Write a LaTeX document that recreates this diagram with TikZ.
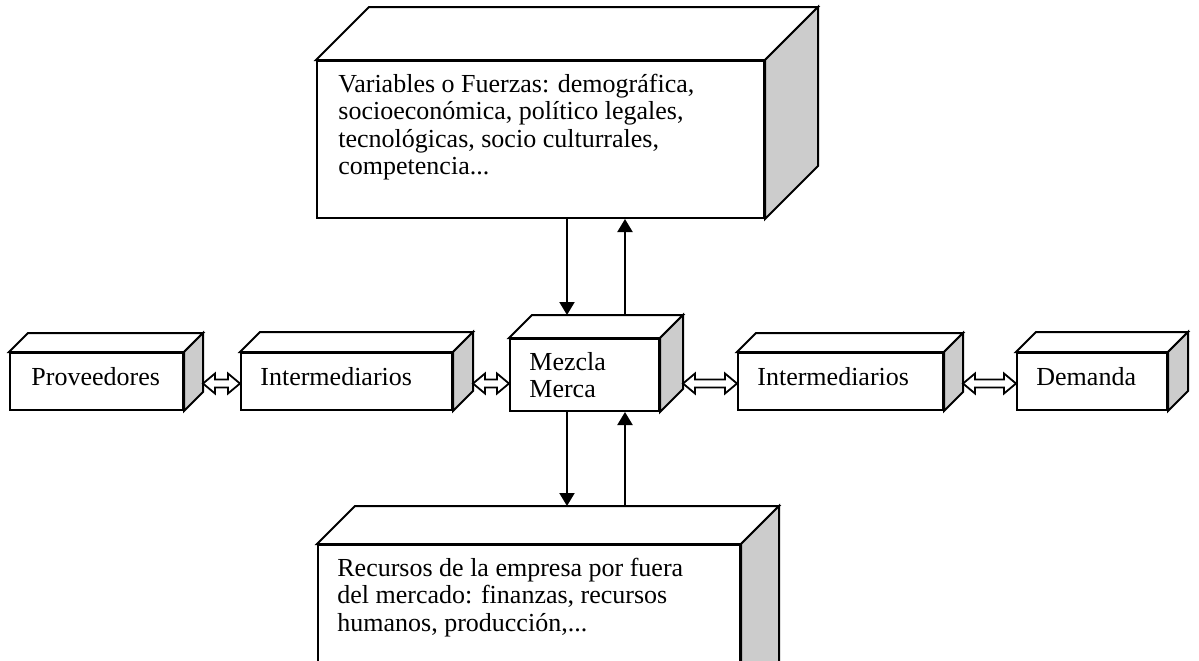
\documentclass[tikz,border=0pt]{standalone}
\usepackage{fontspec}
\setmainfont{Liberation Serif}
\usetikzlibrary{positioning}
\usetikzlibrary{fit}
\usetikzlibrary{arrows.meta}
\definecolor{sidegray}{HTML}{CCCCCC}

\begin{document}
\begin{tikzpicture}[x=0.5pt,y=-0.5pt,
  face/.style={draw,line width=1pt,fill=white,inner sep=0pt},
  lbl/.style={inner sep=0pt,align=left,anchor=north west,font=\fontsize{13}{13.6}\selectfont},
  flow/.style={line width=1pt,-{Triangle[length=6.5pt,width=7.5pt]}},
  link/.style={line width=0.9pt,fill=white,to path={(\tikztostart) -- ++(12,-10) -- ++(0,6)
    -- ([shift={(-12,-4)}]\tikztotarget) -- ++(0,-6) -- (\tikztotarget) -- ++(-12,10) -- ++(0,-6)
    -- ([shift={(12,4)}]\tikztostart) -- ++(0,6) -- cycle}}]
 \useasboundingbox (0,0) rectangle (1199,660);
 \clip (0,0) rectangle (1199,660);
 % front faces
 \node[face,fit={(317,61)(764,218)}] (fuerzas) {};
 \node[face,fit={(10,353)(183,410)}] (prov) {};
 \node[face,fit={(241,353)(452,410)}] (intL) {};
 \node[face,fit={(510,339)(659,411)}] (mezcla) {};
 \node[face,fit={(738,353)(943,410)}] (intR) {};
 \node[face,fit={(1017,353)(1167,410)}] (dem) {};
 \node[face,fit={(318,545)(740,700)}] (recursos) {};
 % top and side faces
 \foreach \b/\d in {fuerzas/53,prov/19,intL/20,mezcla/23,intR/19,dem/20,recursos/38}{
  \draw[line width=1pt,fill=white] (\b.north west) -- ++(\d,-\d) -- ([shift={(\d,-\d)}]\b.north east) -- (\b.north east) -- cycle;
  \draw[line width=1pt,fill=sidegray] (\b.north east) -- ++(\d,-\d) -- ([shift={(\d,-\d)}]\b.south east) -- (\b.south east) -- cycle;
 }
 % texts
 \node[lbl] (fuerzasT) at ([shift={(22,14)}]fuerzas.north west) {Variables o Fuerzas: demográfica,\\socioeconómica, político legales,\\tecnológicas, socio culturrales,\\competencia...};
 \node[lbl] (provT) at ([shift={(22,15)}]prov.north west) {Proveedores};
 \node[lbl] (intLT) at ([shift={(20,15)}]intL.north west) {Intermediarios};
 \node[lbl] (mezclaT) at ([shift={(20,14)}]mezcla.north west) {Mezcla\\Merca};
 \node[lbl] (intRT) at ([shift={(20,15)}]intR.north west) {Intermediarios};
 \node[lbl] (demT) at ([shift={(20,15)}]dem.north west) {Demanda};
 \node[lbl] (recursosT) at ([shift={(20,14)}]recursos.north west) {Recursos de la empresa por fuera\\del mercado: finanzas, recursos\\humanos, producción,...};
 % vertical arrows
 \coordinate (dnX) at (567,0);
 \coordinate (upX) at (625,0);
 \coordinate (mezBack) at ([shift={(0,-23)}]mezcla.north);
 \coordinate (recBack) at ([shift={(0,-38)}]recursos.north);
 \draw[flow] (fuerzas.south -| dnX) -- (mezBack -| dnX);
 \draw[flow] (mezBack -| upX) -- (fuerzas.south -| upX);
 \draw[flow] (mezcla.south -| dnX) -- (recBack -| dnX);
 \draw[flow] (recBack -| upX) -- (mezcla.south -| upX);
 % horizontal links
 \coordinate (provR) at ([shift={(19,2)}]prov.east);
 \coordinate (intLR) at ([shift={(20,2)}]intL.east);
 \coordinate (mezR) at ([shift={(23,0)}]mezcla.east);
 \coordinate (intRR) at ([shift={(19,2)}]intR.east);
 \draw[link] (provR) to (provR -| intL.west);
 \draw[link] (intLR) to (intLR -| mezcla.west);
 \draw[link] (mezR |- intRR) to (intRR -| intR.west);
 \draw[link] (intRR) to (intRR -| dem.west);
\end{tikzpicture}
\end{document}
